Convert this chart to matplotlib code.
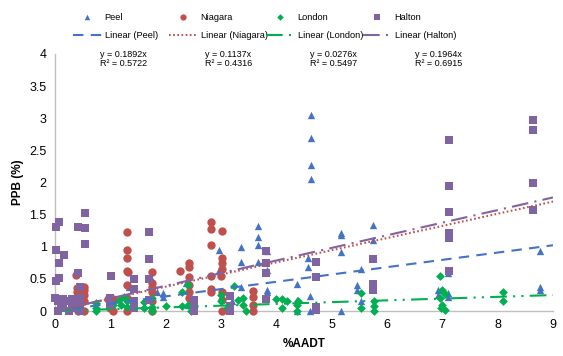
import matplotlib
matplotlib.use("Agg")
import matplotlib.pyplot as plt
import numpy as np

plt.rcParams['font.family'] = ['Liberation Sans', 'DejaVu Sans']

# ---------------- data ----------------
peel_x = [1.34, 1.76, 1.85, 1.96, 1.96, 2.37, 2.40, 2.97, 2.97, 3.00, 3.37, 3.37, 3.37, 3.20,
          3.66, 3.66, 3.66, 3.66, 3.84, 3.84, 3.84, 3.84, 4.38, 4.38, 4.38, 4.58, 4.58, 4.62, 4.62,
          4.62, 4.62, 4.60, 4.60, 5.16, 5.16, 5.16, 5.16, 5.45, 5.45, 5.53, 5.53, 5.74,
          5.74, 6.92, 6.92, 7.10, 7.10, 7.10, 8.77, 8.77, 8.77]
peel_y = [0.37, 0.48, 0.30, 0.28, 0.22, 0.44, 0.10, 0.95, 0.64, 0.30, 1.00, 0.77, 0.38, 0.15,
          1.33, 1.15, 1.03, 0.76, 0.93, 0.64, 0.33, 0.30, 0.42, 0.17, 0.00, 0.82, 0.68, 3.05, 2.69,
          2.27, 2.06, 0.23, 0.00, 1.21, 1.18, 0.92, 0.00, 0.40, 0.32, 0.65, 0.16, 1.34,
          1.10, 0.33, 0.25, 0.59, 0.28, 0.22, 0.93, 0.37, 0.32]

niagara_x = [0.38, 0.40, 0.40, 0.40, 0.42, 0.42, 0.52, 0.52, 0.52, 0.52, 0.52,
             0.95, 1.05, 1.00, 1.05,
             1.30, 1.30, 1.30, 1.30, 1.32, 1.30, 1.30, 1.30,
             1.76, 1.76, 1.76, 1.76, 1.76, 1.76,
             2.25, 2.42, 2.42, 2.42, 2.42, 2.42, 2.42,
             2.82, 2.82, 2.82, 2.82, 2.82, 2.82,
             3.02, 3.02, 3.02, 3.02, 3.00, 3.02, 3.02, 3.02,
             3.57, 3.57, 3.57, 3.57]
niagara_y = [0.56, 0.36, 0.30, 0.20, 0.10, 0.00, 0.38, 0.32, 0.25, 0.15, 0.00,
             0.18, 0.18, 0.05, 0.00,
             1.23, 0.95, 0.83, 0.63, 0.60, 0.40, 0.20, 0.00,
             0.60, 0.43, 0.37, 0.30, 0.15, 0.00,
             0.62, 0.74, 0.68, 0.53, 0.40, 0.30, 0.20,
             1.39, 1.28, 1.03, 0.55, 0.35, 0.30,
             1.25, 0.82, 0.75, 0.65, 0.55, 0.30, 0.17, 0.00,
             0.31, 0.22, 0.10, 0.00]

london_x = [0.30, 0.74, 0.74, 0.74, 1.05, 1.16, 1.20, 1.25, 1.30, 1.30, 1.61, 1.61, 1.76,
            1.76, 1.76, 2.30, 2.41, 2.41, 2.45, 2.30, 2.00, 3.00, 3.00, 3.10, 3.24, 3.30,
            3.40, 3.40, 3.45, 4.00, 4.10, 4.10, 4.20, 4.37, 4.37, 4.40, 5.53, 5.53, 5.76,
            5.76, 5.76, 6.96, 7.00, 7.05, 6.95, 7.00, 6.98, 7.05, 8.10, 8.10]
london_y = [0.05, 0.13, 0.05, 0.00, 0.10, 0.17, 0.10, 0.22, 0.06, 0.15, 0.14, 0.05, 0.20,
            0.06, 0.00, 0.29, 0.40, 0.10, 0.00, 0.08, 0.08, 0.25, 0.15, 0.05, 0.39, 0.17,
            0.20, 0.10, 0.00, 0.18, 0.19, 0.05, 0.15, 0.10, 0.00, 0.15, 0.28, 0.04, 0.16,
            0.08, 0.00, 0.54, 0.33, 0.26, 0.20, 0.10, 0.04, 0.02, 0.29, 0.15]

halton_x = [0.02, 0.07, 0.02, 0.16, 0.07, 0.07, 0.02, 0.00, 0.05, 0.10, 0.15, 0.20, 0.25,
            0.30, 0.35, 0.05, 0.15, 0.30, 0.42, 0.41, 0.45, 0.45, 0.45, 0.45, 0.54, 0.54,
            0.54, 1.01, 1.00, 1.00, 1.42, 1.42, 1.42, 1.42, 1.69, 1.69, 1.69, 1.69, 2.52,
            2.52, 2.52, 2.52, 3.17, 3.17, 3.17, 3.82, 3.82, 3.82, 3.82, 4.71, 4.71, 4.71,
            4.71, 5.74, 5.74, 5.74, 5.74, 7.12, 7.12, 7.12, 7.12, 7.12, 7.12, 8.64, 8.64,
            8.64, 8.64]
halton_y = [1.31, 1.39, 0.95, 0.87, 0.75, 0.52, 0.46, 0.20, 0.15, 0.10, 0.05, 0.15, 0.00,
            0.10, 0.05, 0.00, 0.18, 0.18, 1.31, 0.59, 0.37, 0.20, 0.10, 0.00, 1.53, 1.29,
            1.04, 0.54, 0.20, 0.10, 0.50, 0.34, 0.15, 0.05, 1.23, 0.81, 0.50, 0.17, 0.17,
            0.10, 0.00, 0.05, 0.24, 0.08, 0.00, 0.93, 0.74, 0.59, 0.19, 0.77, 0.53, 0.06,
            0.02, 0.81, 0.42, 0.37, 0.32, 2.66, 1.95, 1.54, 1.21, 1.13, 0.62, 2.97, 2.82,
            2.00, 1.57]

series_names = ["Peel", "Niagara", "London", "Halton"]
trend_slopes = [0.1137, 0.1892, 0.0276, 0.1964]
eq_labels = ["y = 0.1892x\nR\u00b2 = 0.5722", "y = 0.1137x\nR\u00b2 = 0.4316",
             "y = 0.0276x\nR\u00b2 = 0.5497", "y = 0.1964x\nR\u00b2 = 0.6915"]

x_ticks = list(range(0, 10))
y_ticks = [0, 0.5, 1, 1.5, 2, 2.5, 3, 3.5, 4]
y_tick_labels = ["0", "0.5", "1", "1.5", "2", "2.5", "3", "3.5", "4"]

# ---------------- figure ----------------
W, H = 563, 356
fig = plt.figure(figsize=(W / 100, H / 100), dpi=100)
ax = fig.add_axes([55 / W, 1 - 311 / H, (553 - 55) / W, (311 - 54) / H])

colors = ["#4472C4", "#C0504D", "#00B050", "#8064A2"]
markers = ["^", "o", "D", "s"]
sizes = [28, 36, 20, 28]
styles = [(0, (5, 3.5)), (0, (0.8, 1.2)), (0, (8, 3, 1, 3, 1, 3)), (0, (8, 3, 1, 3))]
xs = [peel_x, niagara_x, london_x, halton_x]
ys = [peel_y, niagara_y, london_y, halton_y]

scat_handles = []
for x, y, c, m, s in zip(xs, ys, colors, markers, sizes):
    h = ax.scatter(x, y, marker=m, s=s, color=c, linewidths=0, zorder=3, clip_on=False)
    scat_handles.append(h)

xx = np.array([0, 9])
line_handles = []
for k, c, ls in zip(trend_slopes, colors, styles):
    l, = ax.plot(xx, k * xx, color=c, lw=1.5, ls=ls, zorder=4)
    line_handles.append(l)

ax.set_xlim(0, 9)
ax.set_ylim(0, 4)
ax.set_xticks(x_ticks)
ax.set_xticklabels([str(v) for v in x_ticks])
ax.set_yticks(y_ticks)
ax.set_yticklabels(y_tick_labels)
ax.tick_params(length=0, labelsize=9, colors="#000000", pad=6)
for s in ["top", "right"]:
    ax.spines[s].set_visible(False)
for s in ["left", "bottom"]:
    ax.spines[s].set_color("#BFBFBF")
    ax.spines[s].set_linewidth(1)

ax.set_xlabel("%AADT", fontsize=8.5, fontweight="bold", labelpad=5)
ax.set_ylabel("PPB (%)", fontsize=8.5, fontweight="bold", labelpad=4)

# legend: four equal-width columns
col_x = [73, 169, 266, 363]
for cx, name, sh, lh in zip(col_x, series_names, scat_handles, line_handles):
    fig.legend([sh, lh], [name, "Linear (%s)" % name], loc="center left",
               bbox_to_anchor=(cx / W, 1 - 26.5 / H), frameon=False, fontsize=6.7,
               handlelength=3.1, handletextpad=0.3, labelspacing=1.0, borderpad=0,
               borderaxespad=0, markerscale=0.75)

eq_x = [100, 205, 310, 415]
for xp, t in zip(eq_x, eq_labels):
    fig.text(xp / W, 1 - 59 / H, t, fontsize=6.5, ha="left", va="center", linespacing=1.0)

fig.savefig("out.png", dpi=100)
